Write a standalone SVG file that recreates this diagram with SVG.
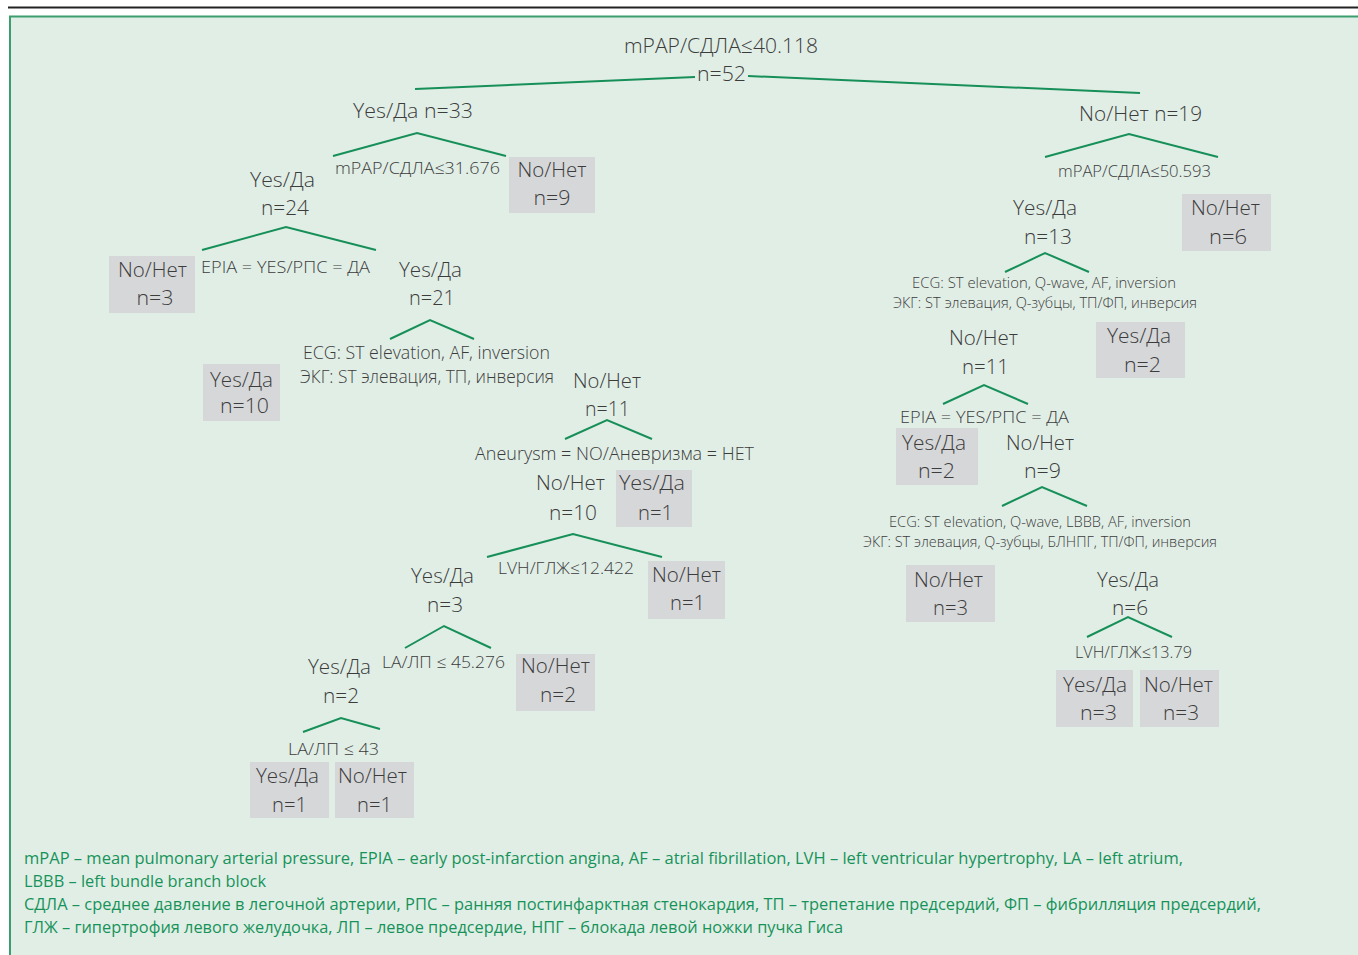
<svg xmlns="http://www.w3.org/2000/svg" width="1358" height="955" viewBox="0 0 1358 955">
<style>
text{font-family:"Open Sans","Liberation Sans",sans-serif;fill:#3c3c3c}
.t{font-size:21px;font-weight:300;text-anchor:middle}
.s{font-size:16.5px;font-weight:300;text-anchor:middle}
.e{font-size:15px;font-weight:300;text-anchor:middle}
.m{font-size:18px;font-weight:300;text-anchor:middle}
.lg{font-size:17px;fill:#17935a}
.box{fill:#d6d7d9}
.c{fill:none;stroke:#168f58;stroke-width:2}
</style>
<rect x="0" y="0" width="1358" height="955" fill="#ffffff"/>
<line x1="8" y1="7.5" x2="1358" y2="7.5" stroke="#222" stroke-width="2"/>
<rect x="10" y="16.5" width="1360" height="950" fill="#e1eee6" stroke="#3a9e6e" stroke-width="2"/>

<g id="connectors">
<polyline class="c" points="415,89 695,77"/>
<polyline class="c" points="748,76 1140,93"/>
<polyline class="c" points="333,156 417,133 506,156"/>
<polyline class="c" points="202,250 286,227 376,250"/>
<polyline class="c" points="390,339 430,320 474,339"/>
<polyline class="c" points="565,439 607,420 652,439"/>
<polyline class="c" points="487,557 573,534 662,557"/>
<polyline class="c" points="405,648 444,626 491,648"/>
<polyline class="c" points="303,732 341,718 380,729"/>
<polyline class="c" points="1045,157 1129,134 1218,157"/>
<polyline class="c" points="1005,272 1045,253 1089,272"/>
<polyline class="c" points="943,404 984,385 1028,404"/>
<polyline class="c" points="1002,506 1042,487 1087,506"/>
<polyline class="c" points="1087,637 1128,617 1172,637"/>
</g>

<g id="root">
<text class="t" x="721" y="53" textLength="194" lengthAdjust="spacingAndGlyphs">mPAP/СДЛА≤40.118</text>
<text class="t" x="721.5" y="81" textLength="49" lengthAdjust="spacingAndGlyphs">n=52</text>
</g>
<g id="n33"><text class="t" x="413" y="118" textLength="120" lengthAdjust="spacingAndGlyphs">Yes/Да n=33</text>
<text class="s" x="417.5" y="174" textLength="165" lengthAdjust="spacingAndGlyphs">mPAP/СДЛА≤31.676</text></g>
<g id="n19"><text class="t" x="1140.5" y="121" textLength="123" lengthAdjust="spacingAndGlyphs">No/Нет n=19</text>
<text class="s" x="1134.5" y="177" textLength="153" lengthAdjust="spacingAndGlyphs">mPAP/СДЛА≤50.593</text></g>

<g id="leaf9"><rect class="box" x="509" y="157" width="86" height="56"/>
<text class="t" x="552" y="177" textLength="69" lengthAdjust="spacingAndGlyphs">No/Нет</text>
<text class="t" x="552" y="205" textLength="37" lengthAdjust="spacingAndGlyphs">n=9</text></g>

<g id="n24"><text class="t" x="282.5" y="187" textLength="65" lengthAdjust="spacingAndGlyphs">Yes/Да</text>
<text class="t" x="285" y="215" textLength="48" lengthAdjust="spacingAndGlyphs">n=24</text>
<text class="s" x="285.5" y="273" textLength="169" lengthAdjust="spacingAndGlyphs">EPIA = YES/РПС = ДА</text></g>

<g id="leaf3a"><rect class="box" x="109" y="256" width="86" height="57"/>
<text class="t" x="152.5" y="277" textLength="69" lengthAdjust="spacingAndGlyphs">No/Нет</text>
<text class="t" x="155" y="305" textLength="37" lengthAdjust="spacingAndGlyphs">n=3</text></g>

<g id="n21"><text class="t" x="430.5" y="277" textLength="63" lengthAdjust="spacingAndGlyphs">Yes/Да</text>
<text class="t" x="432" y="305" textLength="46" lengthAdjust="spacingAndGlyphs">n=21</text>
<text class="m" x="426.5" y="359" textLength="247" lengthAdjust="spacingAndGlyphs">ECG: ST elevation, AF, inversion</text>
<text class="m" x="427" y="383" textLength="254" lengthAdjust="spacingAndGlyphs">ЭКГ: ST элевация, ТП, инверсия</text></g>

<g id="leaf10"><rect class="box" x="203" y="364" width="77" height="57"/>
<text class="t" x="241.5" y="387" textLength="63" lengthAdjust="spacingAndGlyphs">Yes/Да</text>
<text class="t" x="244.5" y="413" textLength="49" lengthAdjust="spacingAndGlyphs">n=10</text></g>

<g id="n11a"><text class="t" x="607" y="388" textLength="68" lengthAdjust="spacingAndGlyphs">No/Нет</text>
<text class="t" x="607.5" y="416" textLength="45" lengthAdjust="spacingAndGlyphs">n=11</text>
<text class="m" x="614.5" y="460" textLength="279" lengthAdjust="spacingAndGlyphs">Aneurysm = NO/Аневризма = НЕТ</text></g>

<g id="n10"><text class="t" x="570.5" y="490" textLength="69" lengthAdjust="spacingAndGlyphs">No/Нет</text>
<text class="t" x="573" y="520" textLength="48" lengthAdjust="spacingAndGlyphs">n=10</text>
<text class="s" x="566" y="574" textLength="136" lengthAdjust="spacingAndGlyphs">LVH/ГЛЖ≤12.422</text></g>

<g id="leaf1a"><rect class="box" x="616" y="470" width="76" height="57"/>
<text class="t" x="652" y="490" textLength="66" lengthAdjust="spacingAndGlyphs">Yes/Да</text>
<text class="t" x="655.5" y="520" textLength="35" lengthAdjust="spacingAndGlyphs">n=1</text></g>

<g id="leaf1b"><rect class="box" x="648" y="561" width="77" height="58"/>
<text class="t" x="686.5" y="582" textLength="69" lengthAdjust="spacingAndGlyphs">No/Нет</text>
<text class="t" x="687.5" y="610" textLength="35" lengthAdjust="spacingAndGlyphs">n=1</text></g>

<g id="n3"><text class="t" x="442.5" y="583" textLength="63" lengthAdjust="spacingAndGlyphs">Yes/Да</text>
<text class="t" x="445" y="612" textLength="36" lengthAdjust="spacingAndGlyphs">n=3</text>
<text class="s" x="443.5" y="668" textLength="123" lengthAdjust="spacingAndGlyphs">LA/ЛП ≤ 45.276</text></g>

<g id="leaf2a"><rect class="box" x="516" y="654" width="79" height="57"/>
<text class="t" x="555.5" y="673" textLength="69" lengthAdjust="spacingAndGlyphs">No/Нет</text>
<text class="t" x="558" y="702" textLength="36" lengthAdjust="spacingAndGlyphs">n=2</text></g>

<g id="n2"><text class="t" x="339.5" y="674" textLength="63" lengthAdjust="spacingAndGlyphs">Yes/Да</text>
<text class="t" x="341" y="703" textLength="36" lengthAdjust="spacingAndGlyphs">n=2</text>
<text class="s" x="333.5" y="755" textLength="91" lengthAdjust="spacingAndGlyphs">LA/ЛП ≤ 43</text></g>

<g id="leaf1c"><rect class="box" x="250" y="762" width="79" height="56"/>
<text class="t" x="287.5" y="783" textLength="63" lengthAdjust="spacingAndGlyphs">Yes/Да</text>
<text class="t" x="289.5" y="812" textLength="35" lengthAdjust="spacingAndGlyphs">n=1</text></g>

<g id="leaf1d"><rect class="box" x="335" y="762" width="79" height="56"/>
<text class="t" x="372.5" y="783" textLength="69" lengthAdjust="spacingAndGlyphs">No/Нет</text>
<text class="t" x="374.5" y="812" textLength="35" lengthAdjust="spacingAndGlyphs">n=1</text></g>

<g id="n13"><text class="t" x="1045" y="215" textLength="64" lengthAdjust="spacingAndGlyphs">Yes/Да</text>
<text class="t" x="1048" y="244" textLength="48" lengthAdjust="spacingAndGlyphs">n=13</text>
<text class="e" x="1044" y="288" textLength="264" lengthAdjust="spacingAndGlyphs">ECG: ST elevation, Q-wave, AF, inversion</text>
<text class="e" x="1045" y="308" textLength="304" lengthAdjust="spacingAndGlyphs">ЭКГ: ST элевация, Q-зубцы, ТП/ФП, инверсия</text></g>

<g id="leaf6"><rect class="box" x="1182" y="194" width="89" height="57"/>
<text class="t" x="1225.5" y="215" textLength="69" lengthAdjust="spacingAndGlyphs">No/Нет</text>
<text class="t" x="1228" y="244" textLength="38" lengthAdjust="spacingAndGlyphs">n=6</text></g>

<g id="leaf2b"><rect class="box" x="1096" y="322" width="89" height="56"/>
<text class="t" x="1139" y="343" textLength="64" lengthAdjust="spacingAndGlyphs">Yes/Да</text>
<text class="t" x="1142.5" y="372" textLength="37" lengthAdjust="spacingAndGlyphs">n=2</text></g>

<g id="n11b"><text class="t" x="983.5" y="345" textLength="69" lengthAdjust="spacingAndGlyphs">No/Нет</text>
<text class="t" x="985.5" y="374" textLength="47" lengthAdjust="spacingAndGlyphs">n=11</text>
<text class="s" x="984.5" y="423" textLength="169" lengthAdjust="spacingAndGlyphs">EPIA = YES/РПС = ДА</text></g>

<g id="leaf2c"><rect class="box" x="896" y="428" width="82" height="57"/>
<text class="t" x="934" y="450" textLength="64" lengthAdjust="spacingAndGlyphs">Yes/Да</text>
<text class="t" x="936.5" y="478" textLength="37" lengthAdjust="spacingAndGlyphs">n=2</text></g>

<g id="n9"><text class="t" x="1040" y="450" textLength="68" lengthAdjust="spacingAndGlyphs">No/Нет</text>
<text class="t" x="1042.5" y="478" textLength="37" lengthAdjust="spacingAndGlyphs">n=9</text>
<text class="e" x="1040" y="527" textLength="302" lengthAdjust="spacingAndGlyphs">ECG: ST elevation, Q-wave, LBBB, AF, inversion</text>
<text class="e" x="1040" y="547" textLength="354" lengthAdjust="spacingAndGlyphs">ЭКГ: ST элевация, Q-зубцы, БЛНПГ, ТП/ФП, инверсия</text></g>

<g id="leaf3b"><rect class="box" x="906" y="565" width="89" height="57"/>
<text class="t" x="948.5" y="587" textLength="69" lengthAdjust="spacingAndGlyphs">No/Нет</text>
<text class="t" x="950.5" y="615" textLength="35" lengthAdjust="spacingAndGlyphs">n=3</text></g>

<g id="n6"><text class="t" x="1128" y="587" textLength="62" lengthAdjust="spacingAndGlyphs">Yes/Да</text>
<text class="t" x="1130" y="615" textLength="36" lengthAdjust="spacingAndGlyphs">n=6</text>
<text class="s" x="1133.5" y="658" textLength="117" lengthAdjust="spacingAndGlyphs">LVH/ГЛЖ≤13.79</text></g>

<g id="leaf3c"><rect class="box" x="1056" y="670" width="77" height="57"/>
<text class="t" x="1095" y="692" textLength="64" lengthAdjust="spacingAndGlyphs">Yes/Да</text>
<text class="t" x="1098.5" y="720" textLength="37" lengthAdjust="spacingAndGlyphs">n=3</text></g>

<g id="leaf3d"><rect class="box" x="1140" y="670" width="79" height="57"/>
<text class="t" x="1178.5" y="692" textLength="69" lengthAdjust="spacingAndGlyphs">No/Нет</text>
<text class="t" x="1181" y="720" textLength="36" lengthAdjust="spacingAndGlyphs">n=3</text></g>

<g id="legend">
<text class="lg" x="24" y="864" textLength="1159" lengthAdjust="spacingAndGlyphs">mPAP – mean pulmonary arterial pressure, EPIA – early post-infarction angina, AF – atrial fibrillation, LVH – left ventricular hypertrophy, LA – left atrium,</text>
<text class="lg" x="24" y="887" textLength="242" lengthAdjust="spacingAndGlyphs">LBBB – left bundle branch block</text>
<text class="lg" x="24" y="910" textLength="1237" lengthAdjust="spacingAndGlyphs">СДЛА – среднее давление в легочной артерии, РПС – ранняя постинфарктная стенокардия, ТП – трепетание предсердий, ФП – фибрилляция предсердий,</text>
<text class="lg" x="24" y="933" textLength="819" lengthAdjust="spacingAndGlyphs">ГЛЖ – гипертрофия левого желудочка, ЛП – левое предсердие, НПГ – блокада левой ножки пучка Гиса</text>
</g>
</svg>
